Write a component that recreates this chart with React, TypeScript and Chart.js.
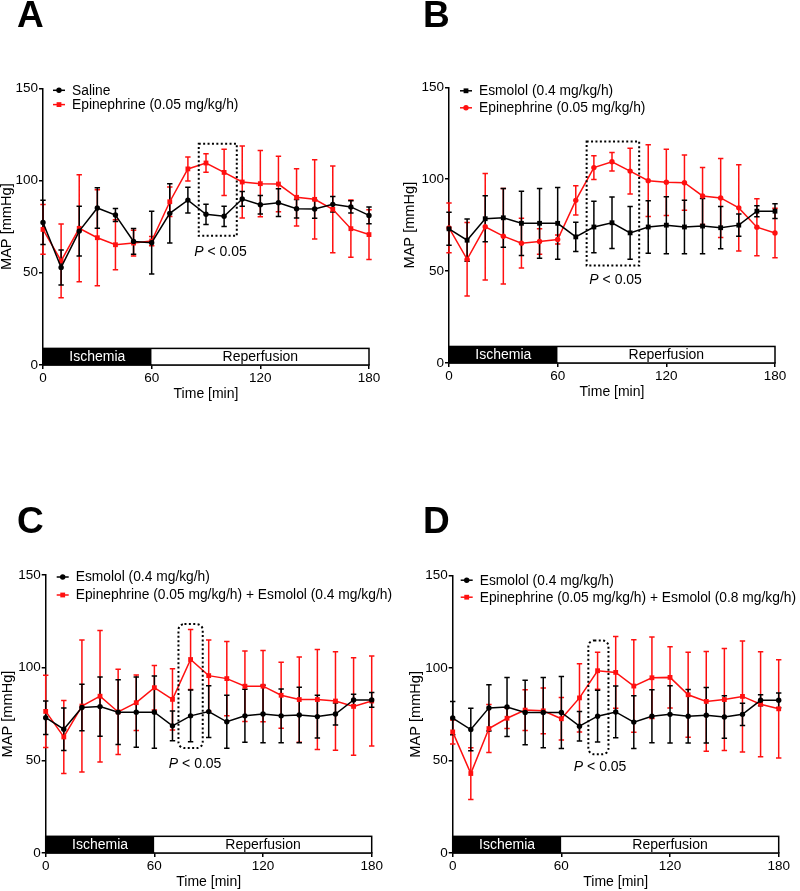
import React, { useEffect, useRef } from 'react';
import { Chart, registerables } from 'chart.js';

Chart.register(...registerables);

const FONT = '"Liberation Sans", Arial, Helvetica, sans-serif';

// ---------- data ----------
const times = [0, 10, 20, 30, 40, 50, 60, 70, 80, 90, 100, 110, 120, 130, 140, 150, 160, 170, 180];
const xTicks = [0, 60, 120, 180];
const yTicks = [0, 50, 100, 150];

const saline = [77.3, 52.9, 72.6, 85.1, 81.3, 67.0, 66.3, 82.2, 89.4, 81.7, 80.6, 90.0, 86.9, 88.0, 84.7, 84.6, 87.1, 85.7, 81.1];
const salineSd = [12, 9.5, 13.5, 11, 3.5, 7, 17, 16, 7, 5.5, 5.5, 4, 5, 7.5, 5, 5, 4.2, 3.3, 4.5];

const epinephrine = [73.5, 56.4, 74.1, 69.0, 65.2, 66.1, 67.2, 88.5, 106.3, 109.5, 104.4, 99.2, 98.3, 98.1, 90.9, 89.8, 84.4, 73.9, 70.7];
const epinephrineSd = [13.5, 20, 29, 26, 13.5, 7, 2.5, 8, 6.5, 5, 12.5, 19.5, 18, 15, 15.5, 21.5, 23.5, 15.5, 13.5];

const esmolol = [73.0, 66.8, 78.5, 79.0, 76.0, 76.0, 76.0, 68.6, 74.0, 76.3, 70.8, 74.0, 75.0, 74.0, 74.5, 73.6, 75.0, 82.6, 82.6];
const esmololSd = [9, 11.5, 12.5, 16, 17.5, 19, 19.5, 8, 14, 14, 14.3, 14.3, 15.5, 14.5, 15, 11.5, 6, 3, 4];

const epiEsm04 = [76.4, 62.6, 79.3, 84.6, 76.1, 81.1, 89.2, 82.9, 104.4, 95.7, 94.1, 90.0, 90.0, 85.1, 82.8, 82.8, 82.0, 79.1, 82.0];
const epiEsm04Sd = [19.5, 19.7, 35.6, 35.5, 23, 15, 12, 16.5, 16.2, 19.2, 20, 19, 19.2, 17.8, 23, 27, 26.6, 26.3, 24.3];

const epiEsm08 = [65.5, 43.0, 67.3, 72.9, 77.3, 76.9, 72.6, 83.9, 98.6, 97.7, 90.3, 94.8, 95.0, 85.6, 82.0, 83.0, 84.7, 80.5, 78.0];
const epiEsm08Sd = [6.5, 14, 13, 5.6, 11, 12.4, 11.5, 18.5, 10, 19.4, 25, 22, 16.6, 23, 27, 27.6, 30, 28.4, 26.6];

const phaseBounds = [0, 60, 180];
const phaseLabels = ['Ischemia', 'Reperfusion'];
const phaseBarTop = 9;

// significance boxes: [x0, x1, yLow, yHigh] and label position [x, y]
const sigBoxA = [86, 107, 70, 120];
const sigBoxB = [76, 105, 53, 120.5];
const sigBoxC = [73.3, 86.7, 56.6, 123.5];
const sigBoxD = [74.9, 86, 53.4, 115];
const sigTextA = [98, 61.4];
const sigTextB = [92, 45.3];
const sigTextC = [82.5, 47.8];
const sigTextD = [81.4, 46.2];

const RED = '#ff1010';
const BLACK = '#000000';

type Series = { label: string; values: number[]; sd: number[]; color: string; shape: 'circle' | 'rect' };
type PanelCfg = {
  letter: string;
  left: number;
  top: number;
  width: number;
  area: { l: number; t: number; r: number; b: number };
  series: Series[];
  box: number[];
  boxRadius: number;
  pText: number[];
  legendY: number[];
  legendX: number;
  yTitleX: number;
  letterX: number;
  letterBase: number;
};

const panels: PanelCfg[] = [
  {
    letter: 'A', left: 0, top: 0, width: 400,
    area: { l: 43, t: 88.3, r: 369, b: 365 },
    series: [
      { label: 'Saline', values: saline, sd: salineSd, color: BLACK, shape: 'circle' },
      { label: 'Epinephrine (0.05 mg/kg/h)', values: epinephrine, sd: epinephrineSd, color: RED, shape: 'rect' },
    ],
    box: sigBoxA, boxRadius: 0, pText: sigTextA, legendY: [2, 16.3], legendX: 10, yTitleX: 7, letterX: 17, letterBase: 27,
  },
  {
    letter: 'B', left: 400, top: 0, width: 400,
    area: { l: 49, t: 87.3, r: 375, b: 363 },
    series: [
      { label: 'Esmolol (0.4 mg/kg/h)', values: esmolol, sd: esmololSd, color: BLACK, shape: 'rect' },
      { label: 'Epinephrine (0.05 mg/kg/h)', values: epinephrine, sd: epinephrineSd, color: RED, shape: 'circle' },
    ],
    box: sigBoxB, boxRadius: 0, pText: sigTextB, legendY: [3.5, 20.5], legendX: 11, yTitleX: 10, letterX: 23, letterBase: 27,
  },
  {
    letter: 'C', left: 0, top: 445, width: 400,
    area: { l: 45.7, t: 130, r: 371.7, b: 407.3 },
    series: [
      { label: 'Esmolol (0.4 mg/kg/h)', values: esmolol, sd: esmololSd, color: BLACK, shape: 'circle' },
      { label: 'Epinephrine (0.05 mg/kg/h) + Esmolol (0.4 mg/kg/h)', values: epiEsm04, sd: epiEsm04Sd, color: RED, shape: 'rect' },
    ],
    box: sigBoxC, boxRadius: 6, pText: sigTextC, legendY: [2, 20], legendX: 11, yTitleX: 7.5, letterX: 17, letterBase: 88,
  },
  {
    letter: 'D', left: 400, top: 445, width: 400,
    area: { l: 52.7, t: 130.7, r: 378.7, b: 407.7 },
    series: [
      { label: 'Esmolol (0.4 mg/kg/h)', values: esmolol, sd: esmololSd, color: BLACK, shape: 'circle' },
      { label: 'Epinephrine (0.05 mg/kg/h) + Esmolol (0.8 mg/kg/h)', values: epiEsm08, sd: epiEsm08Sd, color: RED, shape: 'rect' },
    ],
    box: sigBoxD, boxRadius: 6, pText: sigTextD, legendY: [4.5, 21.5], legendX: 8, yTitleX: 15.6, letterX: 23, letterBase: 88,
  },
];

const X_AXIS_H = 44;
const LEGEND_FONT = `13.8px ${FONT}`;

function drawMarker(ctx: CanvasRenderingContext2D, shape: string, x: number, y: number, color: string) {
  ctx.fillStyle = color;
  if (shape === 'rect') {
    ctx.fillRect(x - 2.4, y - 2.4, 4.8, 4.8);
  } else {
    ctx.beginPath();
    ctx.arc(x, y, 2.7, 0, Math.PI * 2);
    ctx.fill();
  }
}

function makePlugin(cfg: PanelCfg) {
  return {
    id: 'panel' + cfg.letter,
    beforeDatasetsDraw(chart: any) {
      const { ctx } = chart;
      const xs = chart.scales.x;
      const ys = chart.scales.y;
      ctx.save();
      // phase bar
      const yb = ys.getPixelForValue(0);
      const yt = ys.getPixelForValue(phaseBarTop);
      const xa = xs.getPixelForValue(phaseBounds[0]);
      const xm = xs.getPixelForValue(phaseBounds[1]);
      const xe = xs.getPixelForValue(phaseBounds[2]);
      ctx.fillStyle = '#000';
      ctx.fillRect(xa, yt, xm - xa, yb - yt);
      ctx.fillStyle = '#fff';
      ctx.fillRect(xm, yt, xe - xm, yb - yt);
      ctx.strokeStyle = '#000';
      ctx.lineWidth = 1.5;
      ctx.strokeRect(xa, yt, xe - xa, yb - yt);
      ctx.font = `14px ${FONT}`;
      ctx.textAlign = 'center';
      ctx.textBaseline = 'middle';
      ctx.fillStyle = '#fff';
      ctx.fillText(phaseLabels[0], (xa + xm) / 2, (yt + yb) / 2 + 0.5);
      ctx.fillStyle = '#000';
      ctx.fillText(phaseLabels[1], (xm + xe) / 2, (yt + yb) / 2 + 0.5);

      // error bars
      for (let k = cfg.series.length - 1; k >= 0; k--) {
        const s = cfg.series[k];
        ctx.strokeStyle = s.color;
        ctx.lineWidth = 1.5;
        ctx.beginPath();
        s.values.forEach((v, j) => {
          const x = xs.getPixelForValue(times[j]);
          const y1 = ys.getPixelForValue(v + s.sd[j]);
          const y2 = ys.getPixelForValue(v - s.sd[j]);
          ctx.moveTo(x, y1);
          ctx.lineTo(x, y2);
          ctx.moveTo(x - 2.7, y1);
          ctx.lineTo(x + 2.7, y1);
          ctx.moveTo(x - 2.7, y2);
          ctx.lineTo(x + 2.7, y2);
        });
        ctx.stroke();
      }
      ctx.restore();
    },
    afterDatasetsDraw(chart: any) {
      const { ctx, chartArea } = chart;
      const xs = chart.scales.x;
      const ys = chart.scales.y;
      ctx.save();
      // dotted significance box
      const bx0 = xs.getPixelForValue(cfg.box[0]);
      const bx1 = xs.getPixelForValue(cfg.box[1]);
      const byLow = ys.getPixelForValue(cfg.box[2]);
      const byHigh = ys.getPixelForValue(cfg.box[3]);
      ctx.strokeStyle = '#000';
      ctx.lineWidth = 2;
      ctx.setLineDash([2, 2.4]);
      ctx.beginPath();
      if (cfg.boxRadius > 0) {
        ctx.roundRect(bx0, byHigh, bx1 - bx0, byLow - byHigh, cfg.boxRadius);
      } else {
        ctx.rect(bx0, byHigh, bx1 - bx0, byLow - byHigh);
      }
      ctx.stroke();
      ctx.setLineDash([]);

      // P < 0.05
      const px = xs.getPixelForValue(cfg.pText[0]);
      const py = ys.getPixelForValue(cfg.pText[1]);
      ctx.textBaseline = 'middle';
      ctx.textAlign = 'left';
      ctx.font = `italic 14px ${FONT}`;
      const wP = ctx.measureText('P').width;
      ctx.font = `14px ${FONT}`;
      const rest = ' < 0.05';
      const wR = ctx.measureText(rest).width;
      const sx = px - (wP + wR) / 2;
      ctx.fillStyle = '#000';
      ctx.font = `italic 14px ${FONT}`;
      ctx.fillText('P', sx, py);
      ctx.font = `14px ${FONT}`;
      ctx.fillText(rest, sx + wP, py);

      // legend
      cfg.series.forEach((s, k) => {
        const y = chartArea.top + cfg.legendY[k];
        const x0 = chartArea.left + cfg.legendX;
        ctx.strokeStyle = s.color;
        ctx.lineWidth = 1.5;
        ctx.beginPath();
        ctx.moveTo(x0, y);
        ctx.lineTo(x0 + 12, y);
        ctx.stroke();
        drawMarker(ctx, s.shape, x0 + 6, y, s.color);
        ctx.fillStyle = '#000';
        ctx.font = LEGEND_FONT;
        ctx.textAlign = 'left';
        ctx.textBaseline = 'middle';
        ctx.fillText(s.label, x0 + 19, y + 0.5);
      });

      // panel letter
      ctx.font = `bold 37px ${FONT}`;
      ctx.textBaseline = 'alphabetic';
      ctx.textAlign = 'left';
      ctx.fillStyle = '#000';
      ctx.fillText(cfg.letter, cfg.letterX, cfg.letterBase);
      ctx.restore();
    },
  };
}

function Panel({ cfg }: { cfg: PanelCfg }) {
  const ref = useRef<HTMLCanvasElement>(null);
  const height = Math.ceil(cfg.area.b + X_AXIS_H);
  useEffect(() => {
    if (!ref.current) return;
    const datasets = cfg.series.map((s) => ({
      label: s.label,
      data: times.map((t, i) => ({ x: t, y: s.values[i] })),
      borderColor: s.color,
      backgroundColor: s.color,
      borderWidth: 1.5,
      pointStyle: s.shape,
      pointRadius: s.shape === 'rect' ? 3.4 : 2.7,
      pointBorderWidth: 0,
      pointBackgroundColor: s.color,
      tension: 0,
      fill: false,
      clip: false as any,
    }));
    const chart = new Chart(ref.current, {
      type: 'line',
      data: { datasets },
      options: {
        animation: false,
        responsive: false,
        devicePixelRatio: 1,
        layout: { padding: { left: 0, top: cfg.area.t, right: cfg.width - cfg.area.r, bottom: 0 } },
        plugins: { legend: { display: false }, tooltip: { enabled: false } },
        scales: {
          x: {
            type: 'linear',
            min: 0,
            max: 180,
            afterBuildTicks: (s: any) => { s.ticks = xTicks.map((v) => ({ value: v })); },
            afterFit: (s: any) => { s.height = X_AXIS_H; },
            grid: { display: true, drawOnChartArea: false, drawTicks: true, tickLength: 4, color: '#000', lineWidth: 1.5 },
            border: { display: true, color: '#000', width: 1.5 },
            ticks: { color: '#000', font: { size: 13.5, family: FONT }, padding: 1, maxRotation: 0, autoSkip: false },
            title: { display: true, text: 'Time [min]', color: '#000', font: { size: 14, family: FONT, lineHeight: 1 }, padding: { top: 0, bottom: 7.5 } },
          },
          y: {
            type: 'linear',
            min: 0,
            max: 150,
            afterBuildTicks: (s: any) => { s.ticks = yTicks.map((v) => ({ value: v })); },
            afterFit: (s: any) => { s.width = cfg.area.l; },
            grid: { display: true, drawOnChartArea: false, drawTicks: true, tickLength: 4, color: '#000', lineWidth: 1.5 },
            border: { display: true, color: '#000', width: 1.5 },
            ticks: { color: '#000', font: { size: 13.5, family: FONT }, padding: 1 },
            title: { display: true, text: 'MAP [mmHg]', color: '#000', font: { size: 14.6, family: FONT, lineHeight: 1 }, padding: { top: cfg.yTitleX - 7.3, bottom: 0 } },
          },
        },
      } as any,
      plugins: [makePlugin(cfg)],
    });
    return () => chart.destroy();
  }, [cfg]);
  return (
    <canvas
      ref={ref}
      width={cfg.width}
      height={height}
      style={{ position: 'absolute', left: cfg.left, top: cfg.top, width: cfg.width, height, display: 'block' }}
    />
  );
}

export default function App() {
  return (
    <div style={{ position: 'absolute', left: 0, top: 0, width: 800, height: 891, overflow: 'hidden', background: '#fff' }}>
      {panels.map((p) => (
        <Panel key={p.letter} cfg={p} />
      ))}
    </div>
  );
}
